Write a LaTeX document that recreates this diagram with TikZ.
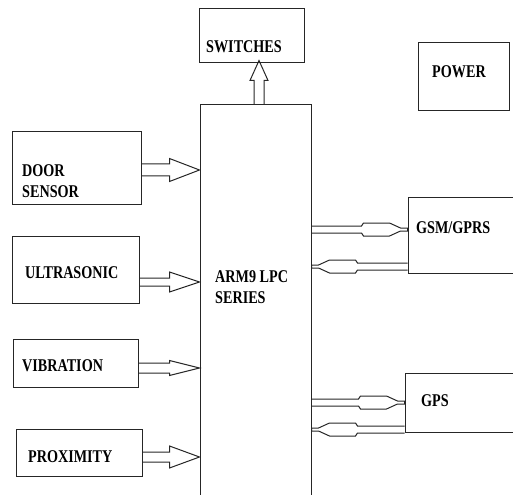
\documentclass[tikz,border=0pt]{standalone}
\usepackage{fontspec}
\setmainfont{Liberation Serif}[FakeStretch=0.79]
\usetikzlibrary{calc}

% block arrow pointing right: start, tip, shaft half width, head half width
\newcommand{\inarrow}[4]{%
  \draw[arr] ($(#1)+(0,-#3)$) -- ($(#2)+(-30,-#3)$) -- ($(#2)+(-30,-#4)$) -- (#2)
    -- ($(#2)+(-30,#4)$) -- ($(#2)+(-30,#3)$) -- ($(#1)+(0,#3)$);}
% thin link arrow: start, end, direction (1 right, -1 left)
\newcommand{\linkarrow}[3]{%
  \draw[arr] ($(#1)+(0,-3.5)$) -- ($(#2)+({-46*#3},-3.5)$) -- ($(#2)+({-44*#3},-6.5)$)
    -- ($(#2)+({-18*#3},-6.5)$) -- ($(#2)+({-7*#3},-1.5)$) -- ($(#2)+(0,-1.5)$)
    -- ($(#2)+(0,1.5)$) -- ($(#2)+({-7*#3},1.5)$) -- ($(#2)+({-18*#3},6.5)$)
    -- ($(#2)+({-44*#3},6.5)$) -- ($(#2)+({-46*#3},3.5)$) -- ($(#1)+(0,3.5)$);}

\tikzset{
  blk/.style={draw=black!85, line width=1bp, inner sep=0pt},
  arr/.style={draw=black!85, line width=1bp},
  lbl/.style={font=\fontsize{18}{21}\selectfont\bfseries, anchor=west, inner sep=0pt, align=left},
}

\begin{document}
\begin{tikzpicture}[x=1bp,y={(0,-1bp)}]
	\clip (0,0) rectangle (513,495);
	% blocks
	\node[blk, minimum width=105bp, minimum height=54bp] (switches) at (251.5,36) {};
	\node[blk, minimum width=91bp, minimum height=68bp] (power) at (463.5,77) {};
	\node[blk, minimum width=111bp, minimum height=415bp] (arm) at (255.5,312.5) {};
	\node[blk, minimum width=128bp, minimum height=72bp] (door) at (77,168) {};
	\node[blk, minimum width=126bp, minimum height=67bp] (ultra) at (76,269.5) {};
	\node[blk, minimum width=124bp, minimum height=48bp] (vib) at (76,363) {};
	\node[blk, minimum width=125bp, minimum height=47bp] (prox) at (79.5,452.5) {};
	\node[blk, minimum width=112bp, minimum height=75bp] (gsm) at (464,235.5) {};
	\node[blk, minimum width=115bp, minimum height=59bp] (gps) at (462.5,402.5) {};

	% labels
	\node[lbl] (tswitches) at (206,47) {SWITCHES};
	\node[lbl] (tpower) at (432,72) {POWER};
	\node[lbl] (tdoor) at (22,181) {DOOR\\SENSOR};
	\node[lbl] (tultra) at (25,273) {ULTRASONIC};
	\node[lbl] (tvib) at (22,366) {VIBRATION};
	\node[lbl] (tprox) at (28,457) {PROXIMITY};
	\node[lbl] (tarm) at (215,287) {ARM9 LPC\\SERIES};
	\node[lbl] (tgsm) at (416,228) {GSM/GPRS};
	\node[lbl] (tgps) at (421,401) {GPS};

	% sensors to controller
	\coordinate (d1) at ($(door.east)+(0,2)$);
	\coordinate (d2) at (d1 -| arm.west);
	\inarrow{d1}{d2}{6}{11.5}
	\coordinate (u1) at ($(ultra.east)+(0,12.5)$);
	\coordinate (u2) at (u1 -| arm.west);
	\inarrow{u1}{u2}{4}{10}
	\coordinate (v1) at ($(vib.east)+(0,5)$);
	\coordinate (v2) at (v1 -| arm.west);
	\inarrow{v1}{v2}{5}{7.5}
	\coordinate (p1) at ($(prox.east)+(0,4.5)$);
	\coordinate (p2) at (p1 -| arm.west);
	\inarrow{p1}{p2}{5}{11}

	% controller to switches
	\coordinate (s1) at ($(arm.north)+(3.5,0)$);
	\coordinate (s2) at ($(s1 |- switches.south)+(0,-3)$);
	\draw[arr] ($(s1)+(-5,0)$) -- ($(s2)+(-5,20)$) -- ($(s2)+(-9,20)$) -- (s2)
		-- ($(s2)+(9,20)$) -- ($(s2)+(5,20)$) -- ($(s1)+(5,0)$);

	% gsm and gps links
	\coordinate (g1) at ($(gsm.west)+(0,-6)$);
	\coordinate (g0) at (g1 -| arm.east);
	\linkarrow{g0}{g1}{1}
	\coordinate (g2) at ($(gsm.south west)+(0,-7)$);
	\coordinate (g3) at (g2 -| arm.east);
	\linkarrow{g2}{g3}{-1}
	\coordinate (r1) at (gps.west);
	\coordinate (r0) at (r1 -| arm.east);
	\linkarrow{r0}{r1}{1}
	\coordinate (r2) at ($(gps.south west)+(0,-3)$);
	\coordinate (r3) at (r2 -| arm.east);
	\linkarrow{r2}{r3}{-1}
\end{tikzpicture}
\end{document}
